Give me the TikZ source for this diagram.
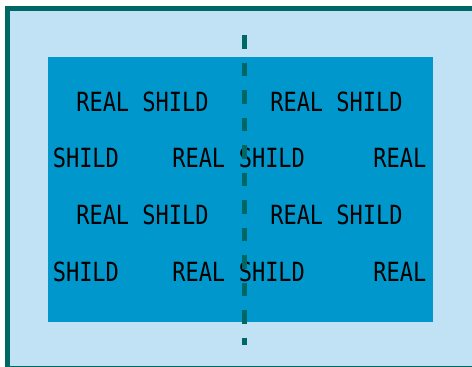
\documentclass[tikz,border=0pt]{standalone}
\usepackage{fontspec}
\newfontfamily\wordfont{DejaVu Sans Mono}
\usetikzlibrary{positioning}
\definecolor{frameteal}{RGB}{0,104,100}
\definecolor{paleblue}{RGB}{193,225,244}
\definecolor{deepblue}{RGB}{0,152,204}
\newcommand{\tallword}[1]{\scalebox{1}[1.2]{#1}}
\tikzset{
  outer/.style = {fill=paleblue, draw=frameteal, line width=3.75pt},
  inner/.style = {fill=deepblue, draw=none},
  wrd/.style   = {anchor=base west, inner sep=0pt, text=black,
                  font=\wordfont\fontsize{16.5}{18}\selectfont},
  cut/.style   = {draw=frameteal, line width=3.75pt,
                  dash pattern=on 10.1pt off 10.5pt},
}

\begin{document}
\begin{tikzpicture}[x=0.75pt, y=-0.75pt]
    \useasboundingbox (0,0) rectangle (472,367);
    \clip (0,0) rectangle (472,367);
    % panels
    \draw[outer] (7.5,8.5) rectangle (490,368.5);
    \node[inner, minimum width=288.75pt, minimum height=198.75pt,
          anchor=north west, inner sep=0pt] (plate) at (48,57) {};
    % row 1
    \node[wrd] (r1l) at (76,112) {\tallword{REAL SHILD}};
    \node[wrd] (r1r) at (270,112) {\tallword{REAL SHILD}};
    % row 2
    \node[wrd] (r2a) at (52.5,168) {\tallword{SHILD}};
    \node[wrd] (r2b) at (172,168) {\tallword{REAL}};
    \node[wrd] (r2c) at (238.5,168) {\tallword{SHILD}};
    \node[wrd] (r2d) at (373,168) {\tallword{REAL}};
    % row 3
    \node[wrd] (r3l) at (76,225) {\tallword{REAL SHILD}};
    \node[wrd] (r3r) at (270,225) {\tallword{REAL SHILD}};
    % row 4
    \node[wrd] (r4a) at (52.5,282) {\tallword{SHILD}};
    \node[wrd] (r4b) at (172,282) {\tallword{REAL}};
    \node[wrd] (r4c) at (238.5,282) {\tallword{SHILD}};
    \node[wrd] (r4d) at (373,282) {\tallword{REAL}};
    % fold line
    \coordinate (ftop) at (244.5,35.5);
    \coordinate (fbot) at (244.5,345);
    \draw[cut] (ftop) -- (fbot);
  \end{tikzpicture}
\end{document}
